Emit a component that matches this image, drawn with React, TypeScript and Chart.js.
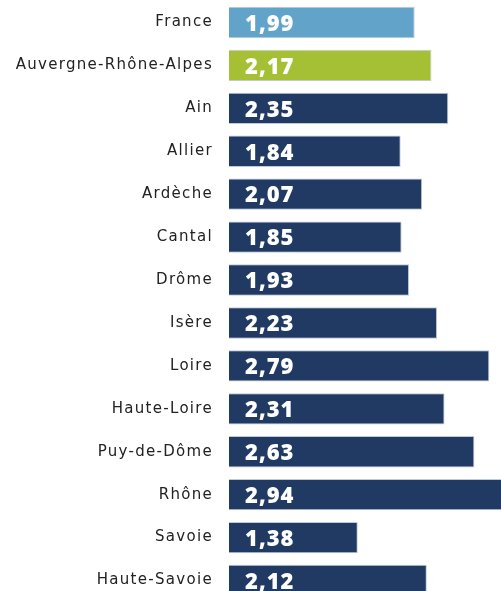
import React, { useEffect, useRef } from "react";
import { Chart, registerables } from "chart.js";

Chart.register(...registerables);

const categories = [
  "France",
  "Auvergne-Rhône-Alpes",
  "Ain",
  "Allier",
  "Ardèche",
  "Cantal",
  "Drôme",
  "Isère",
  "Loire",
  "Haute-Loire",
  "Puy-de-Dôme",
  "Rhône",
  "Savoie",
  "Haute-Savoie",
];
const values = [1.99, 2.17, 2.35, 1.84, 2.07, 1.85, 1.93, 2.23, 2.79, 2.31, 2.63, 2.94, 1.38, 2.12];
const colors = [
  "#62a3c9",
  "#a6c036",
  "#213a63",
  "#213a63",
  "#213a63",
  "#213a63",
  "#213a63",
  "#213a63",
  "#213a63",
  "#213a63",
  "#213a63",
  "#213a63",
  "#213a63",
  "#213a63",
];

export default function App() {
  const ref = useRef<HTMLCanvasElement>(null);
  useEffect(() => {
    document.body.style.margin = "0";
    document.body.style.overflow = "hidden";
    const valueLabels = {
      id: "valueLabels",
      afterDatasetsDraw(chart: any) {
        const ctx = chart.ctx;
        const meta = chart.getDatasetMeta(0);
        const x0 = chart.scales.x.getPixelForValue(0);
        ctx.save();
        (ctx as any).letterSpacing = "1px";
        ctx.font = "800 22px 'Open Sans'";
        ctx.fillStyle = "#ffffff";
        ctx.textAlign = "left";
        ctx.textBaseline = "middle";
        meta.data.forEach((bar: any, i: number) => {
          ctx.fillText(values[i].toFixed(2).replace(".", ","), x0 + 16, bar.y + 2);
        });
        ctx.restore();
      },
    };
    const spacing = {
      id: "spacing",
      beforeDraw(chart: any) {
        (chart.ctx as any).letterSpacing = "1.3px";
      },
      beforeDatasetsDraw(chart: any) {
        (chart.ctx as any).letterSpacing = "0px";
      },
    };
    const chart = new Chart(ref.current!, {
      type: "bar",
      data: {
        labels: categories,
        datasets: [
          {
            data: values,
            backgroundColor: colors,
            borderColor: "rgba(150,165,190,0.6)",
            borderWidth: 1,
            barPercentage: 0.73,
            categoryPercentage: 1,
          },
        ],
      },
      options: {
        indexAxis: "y",
        animation: false,
        responsive: false,
        maintainAspectRatio: false,
        layout: { padding: { top: 1, right: 0, bottom: 0, left: 0 } },
        plugins: { legend: { display: false }, tooltip: { enabled: false } },
        scales: {
          x: {
            display: false,
            min: 0,
            max: 2.915,
          },
          y: {
            grid: { display: false, drawTicks: false },
            border: { display: false },
            ticks: {
              color: "#222222",
              font: { family: "'DejaVu Sans'", size: 15 },
              padding: 16,
            },
            afterFit(scale: any) {
              scale.width = 229;
              scale.paddingTop = 0;
              scale.paddingBottom = 0;
            },
          },
        },
      },
      plugins: [valueLabels, spacing],
    });
    return () => chart.destroy();
  }, []);
  return (
    <div style={{ position: "absolute", left: 0, top: 0, width: 501, height: 602 }}>
      <canvas ref={ref} width={501} height={602} style={{ display: "block" }} />
    </div>
  );
}
